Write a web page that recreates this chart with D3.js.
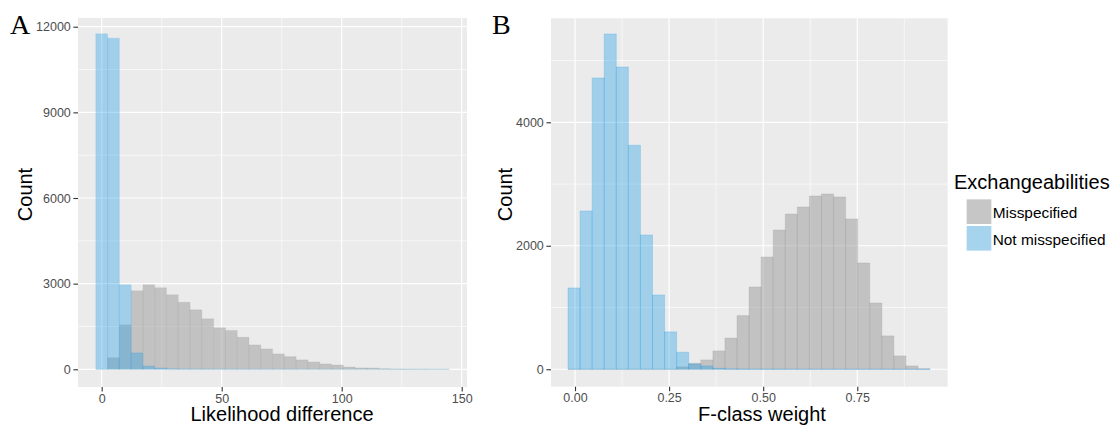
<!DOCTYPE html>
<html>
<head>
<meta charset="utf-8">
<script src="https://cdn.jsdelivr.net/npm/d3@7"></script>
<style>
  body { margin: 0; background: #fff; }
  text { font-family: "Liberation Sans", Arial, sans-serif; }
</style>
</head>
<body>
<svg width="1115" height="425"></svg>
<script>
// panel A - likelihood difference, 30 bins
var binStartA = -2.45, binWidthA = 4.91;
var misA = [0, 405, 1555, 2750, 2960, 2860, 2610, 2345, 2085, 1770, 1455, 1360, 1125, 855, 715,
  540, 445, 330, 258, 190, 152, 82, 48, 47, 23, 12, 8, 5, 3, 2];
var notA = [11750, 11600, 2960, 575, 117, 47, 20, 12, 8, 6, 5, 4, 3, 3, 2,
  2, 2, 1, 1, 1, 1, 1, 1, 0, 0, 0, 0, 0, 0, 0];
var xTicksA = [0, 50, 100, 150], xMinorA = [25, 75, 125];
var yTicksA = [0, 3000, 6000, 9000, 12000], yMinorA = [1500, 4500, 7500, 10500];

// panel B - F-class weight, 30 bins
var binStartB = -0.0186, binWidthB = 0.03207;
var misB = [0, 0, 0, 0, 0, 0, 0, 0, 0, 38, 97, 151, 297, 505, 869,
  1333, 1819, 2256, 2515, 2629, 2807, 2839, 2791, 2435, 1722, 1074, 540, 216, 54, 8];
var notB = [1317, 2564, 4718, 5431, 4896, 3628, 2175, 1204, 605, 276, 85, 54, 16, 6, 3,
  2, 1, 1, 0, 0, 0, 0, 0, 0, 0, 0, 0, 0, 0, 0];
var xTicksB = [0, 0.25, 0.5, 0.75], xMinorB = [0.125, 0.375, 0.625, 0.875];
var yTicksB = [0, 2000, 4000], yMinorB = [1000, 3000, 5000];

var legendLabels = ["Misspecified", "Not misspecified"];

var svg = d3.select("svg");
svg.append("rect").attr("width", 1115).attr("height", 425).attr("fill", "#fff");

var grayFill = "#999999", grayAlpha = 0.5;
var blueFill = "rgb(35,159,232)", blueAlpha = 0.37;

function bars(g, x, y, start, width, counts, fill, alpha, strokeOp) {
  g.append("g")
    .selectAll("path")
    .data(counts)
    .enter()
    .append("path")
    .attr("d", function (d, i) {
      var x0 = x(start + i * width), x1 = x(start + (i + 1) * width);
      return "M" + x0 + "," + y(0) + "V" + y(d) + "H" + x1 + "V" + y(0) + "Z";
    })
    .attr("fill", fill)
    .attr("fill-opacity", alpha)
    .attr("stroke", fill)
    .attr("stroke-opacity", strokeOp)
    .attr("stroke-width", 0.7);
}

function panel(o) {
  var x = d3.scaleLinear().domain(o.xDomain).range([o.left, o.right]);
  var y = d3.scaleLinear().domain(o.yDomain).range([o.bottom, o.top]);
  var g = svg.append("g");

  g.append("rect")
    .attr("x", o.left).attr("y", o.top)
    .attr("width", o.right - o.left).attr("height", o.bottom - o.top)
    .attr("fill", "#ebebeb");

  // grid
  g.selectAll(".xminor").data(o.xMinor).enter().append("line")
    .attr("x1", x).attr("x2", x).attr("y1", o.top).attr("y2", o.bottom)
    .attr("stroke", "#fff").attr("stroke-width", 0.6);
  g.selectAll(".yminor").data(o.yMinor).enter().append("line")
    .attr("y1", y).attr("y2", y).attr("x1", o.left).attr("x2", o.right)
    .attr("stroke", "#fff").attr("stroke-width", 0.6);
  g.selectAll(".xmajor").data(o.xTicks).enter().append("line")
    .attr("x1", x).attr("x2", x).attr("y1", o.top).attr("y2", o.bottom)
    .attr("stroke", "#fff").attr("stroke-width", 1.2);
  g.selectAll(".ymajor").data(o.yTicks).enter().append("line")
    .attr("y1", y).attr("y2", y).attr("x1", o.left).attr("x2", o.right)
    .attr("stroke", "#fff").attr("stroke-width", 1.2);

  bars(g, x, y, o.binStart, o.binWidth, o.mis, grayFill, grayAlpha, o.strokeOp);
  bars(g, x, y, o.binStart, o.binWidth, o.not, blueFill, blueAlpha, o.strokeOp);

  // axes
  var xa = g.append("g")
    .attr("transform", "translate(0," + o.bottom + ")")
    .call(d3.axisBottom(x).tickValues(o.xTicks).tickSize(4.5).tickPadding(2.3).tickFormat(o.xFormat));
  var ya = g.append("g")
    .attr("transform", "translate(" + o.left + ",0)")
    .call(d3.axisLeft(y).tickValues(o.yTicks).tickSize(4.6).tickPadding(2.6).tickFormat(d3.format("d")));
  [xa, ya].forEach(function (a) {
    a.select(".domain").remove();
    a.selectAll(".tick line").attr("stroke", "#333").attr("stroke-width", 1.1);
    a.selectAll(".tick text")
      .attr("fill", "#4d4d4d")
      .style("font-size", "12.5px")
      .style("font-family", "'Liberation Sans', Arial, sans-serif");
  });

  // titles
  g.append("text")
    .attr("x", o.xTitleX).attr("y", 421)
    .attr("text-anchor", "middle")
    .style("font-size", "20px")
    .text(o.xTitle);
  g.append("text")
    .attr("transform", "translate(" + o.yTitleX + ",194.5) rotate(-90)")
    .attr("text-anchor", "middle")
    .style("font-size", "20px")
    .text("Count");
  g.append("text")
    .attr("x", o.tagX).attr("y", 34)
    .style("font-family", "'Liberation Serif', 'Times New Roman', serif")
    .style("font-size", "28px")
    .text(o.tag);
}

panel({
  tag: "A", tagX: 10,
  left: 78, right: 467, top: 18, bottom: 387,
  xDomain: [-9.875, 152.2], yDomain: [-620, 12305],
  xTicks: xTicksA, xMinor: xMinorA, yTicks: yTicksA, yMinor: yMinorA,
  binStart: binStartA, binWidth: binWidthA, mis: misA, not: notA,
  xFormat: d3.format("d"), strokeOp: 0.18,
  xTitle: "Likelihood difference", xTitleX: 282, yTitleX: 31.5
});

panel({
  tag: "B", tagX: 492,
  left: 551, right: 947.7, top: 18.3, bottom: 386.7,
  xDomain: [-0.0638, 0.9902], yDomain: [-282.5, 5684],
  xTicks: xTicksB, xMinor: xMinorB, yTicks: yTicksB, yMinor: yMinorB,
  binStart: binStartB, binWidth: binWidthB, mis: misB, not: notB,
  xFormat: d3.format(".2f"), strokeOp: 0.35,
  xTitle: "F-class weight", xTitleX: 762, yTitleX: 511.5
});

// legend
var lg = svg.append("g");
lg.append("text")
  .attr("x", 954).attr("y", 189.3)
  .style("font-size", "20px")
  .text("Exchangeabilities");
var keys = lg.selectAll(".key")
  .data(legendLabels)
  .enter()
  .append("g")
  .attr("transform", function (d, i) { return "translate(966.7," + (199.4 + i * 26.6) + ")"; });
keys.append("rect")
  .attr("width", 24.6).attr("height", 24.6)
  .attr("fill", "#f2f2f2");
keys.append("rect")
  .attr("width", 24.6).attr("height", 24.6)
  .attr("fill", function (d, i) { return i === 0 ? grayFill : blueFill; })
  .attr("fill-opacity", function (d, i) { return i === 0 ? grayAlpha : blueAlpha; });
keys.append("text")
  .attr("x", 26).attr("y", 18.6)
  .style("font-size", "15.4px")
  .text(function (d) { return d; });
</script>
</body>
</html>
